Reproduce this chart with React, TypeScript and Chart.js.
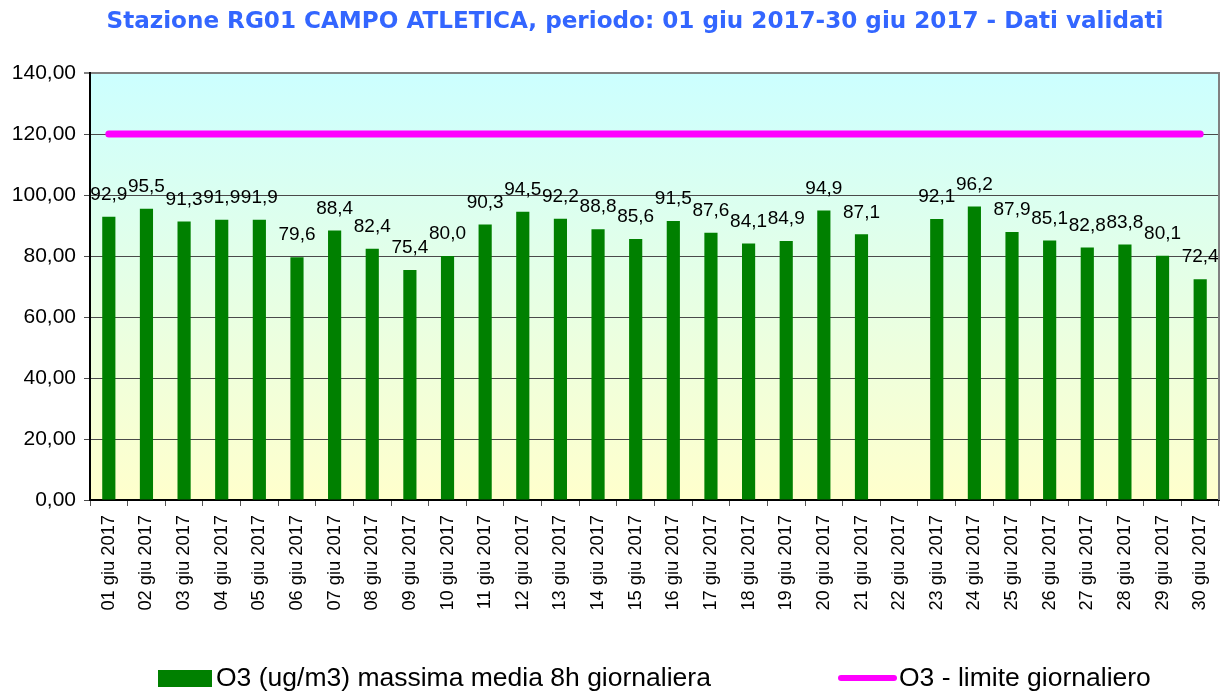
import React, { useEffect, useRef } from "react";
import { Chart, registerables } from "chart.js";

Chart.register(...registerables);

const TITLE = "Stazione RG01 CAMPO ATLETICA, periodo: 01 giu 2017-30 giu 2017 - Dati validati";

const categories: string[] = [
  "01 giu 2017", "02 giu 2017", "03 giu 2017", "04 giu 2017", "05 giu 2017",
  "06 giu 2017", "07 giu 2017", "08 giu 2017", "09 giu 2017", "10 giu 2017",
  "11 giu 2017", "12 giu 2017", "13 giu 2017", "14 giu 2017", "15 giu 2017",
  "16 giu 2017", "17 giu 2017", "18 giu 2017", "19 giu 2017", "20 giu 2017",
  "21 giu 2017", "22 giu 2017", "23 giu 2017", "24 giu 2017", "25 giu 2017",
  "26 giu 2017", "27 giu 2017", "28 giu 2017", "29 giu 2017", "30 giu 2017",
];

const o3Values: (number | null)[] = [
  92.9, 95.5, 91.3, 91.9, 91.9, 79.6, 88.4, 82.4, 75.4, 80.0,
  90.3, 94.5, 92.2, 88.8, 85.6, 91.5, 87.6, 84.1, 84.9, 94.9,
  87.1, null, 92.1, 96.2, 87.9, 85.1, 82.8, 83.8, 80.1, 72.4,
];

const limitValues: number[] = categories.map(() => 120);

const seriesNames = ["O3 (ug/m3) massima media 8h giornaliera", "O3 - limite giornaliero"];

const yMin = 0;
const yMax = 140;
const yStep = 20;

const FONT = "'Liberation Sans', Arial, sans-serif";

const bgPlugin = {
  id: "bgPlugin",
  beforeDraw(chart: any) {
    const { ctx, chartArea, width, height } = chart;
    ctx.save();
    ctx.fillStyle = "#ffffff";
    ctx.fillRect(0, 0, width, height);
    const g = ctx.createLinearGradient(0, chartArea.top, 0, chartArea.bottom);
    g.addColorStop(0, "#CCFFFF");
    g.addColorStop(1, "#FFFFCC");
    ctx.fillStyle = g;
    ctx.fillRect(chartArea.left, chartArea.top, chartArea.right - chartArea.left, chartArea.bottom - chartArea.top);
    // title
    ctx.fillStyle = "#3366FF";
    ctx.font = "bold 23.1px 'DejaVu Sans', Verdana, sans-serif";
    ctx.textAlign = "center";
    ctx.textBaseline = "middle";
    ctx.fillText(TITLE, 635, 22);
    ctx.restore();
  },
  afterDraw(chart: any) {
    const { ctx, chartArea } = chart;
    ctx.save();
    // right border
    ctx.strokeStyle = "#808080";
    ctx.lineWidth = 2;
    ctx.beginPath();
    ctx.moveTo(chartArea.right, chartArea.top - 1);
    ctx.lineTo(chartArea.right, chartArea.bottom);
    ctx.stroke();
    // legend
    ctx.fillStyle = "#008000";
    ctx.fillRect(158, 670, 54, 17);
    ctx.fillStyle = "#000";
    ctx.font = `26.5px ${FONT}`;
    ctx.textAlign = "left";
    ctx.textBaseline = "middle";
    ctx.fillText(seriesNames[0], 216, 679);
    ctx.strokeStyle = "#FF00FF";
    ctx.lineWidth = 6;
    ctx.lineCap = "round";
    ctx.beginPath();
    ctx.moveTo(841, 678);
    ctx.lineTo(894, 678);
    ctx.stroke();
    ctx.fillText(seriesNames[1], 899, 679);
    ctx.restore();
  },
};

const labelPlugin = {
  id: "labelPlugin",
  afterDatasetsDraw(chart: any) {
    const { ctx } = chart;
    const meta = chart.getDatasetMeta(0);
    ctx.save();
    ctx.fillStyle = "#000";
    ctx.font = `19px ${FONT}`;
    ctx.textAlign = "center";
    ctx.textBaseline = "middle";
    meta.data.forEach((bar: any, i: number) => {
      const v = o3Values[i];
      if (v === null || v === undefined) return;
      ctx.fillText(v.toFixed(1).replace(".", ","), bar.x, bar.y - 22);
    });
    ctx.restore();
  },
};

export default function App() {
  const ref = useRef<HTMLCanvasElement | null>(null);
  useEffect(() => {
    if (!ref.current) return;
    const chart = new Chart(ref.current, {
      type: "bar",
      data: {
        labels: categories,
        datasets: [
          {
            type: "bar",
            label: seriesNames[0],
            data: o3Values,
            backgroundColor: "#008000",
            borderWidth: 0,
            barPercentage: 0.35,
            categoryPercentage: 1,
            order: 2,
          },
          {
            type: "line",
            label: seriesNames[1],
            data: limitValues,
            borderColor: "#FF00FF",
            borderWidth: 7,
            borderCapStyle: "round",
            pointRadius: 0,
            fill: false,
            order: 1,
          },
        ],
      } as any,
      options: {
        responsive: false,
        animation: false,
        layout: { padding: { top: 73, left: 0, right: 7, bottom: 0 } },
        plugins: {
          legend: { display: false },
          title: { display: false },
          tooltip: { enabled: false },
        },
        scales: {
          x: {
            offset: true,
            grid: {
              offset: true,
              drawOnChartArea: false,
              drawTicks: true,
              tickLength: 6,
              color: "#555555",
            },
            border: { color: "#000000", width: 2 },
            ticks: {
              maxRotation: 90,
              minRotation: 90,
              autoSkip: false,
              padding: 9,
              color: "#000",
              font: { family: FONT, size: 18.3 },
            },
            afterFit(scale: any) {
              scale.height = 192;
              scale.paddingLeft = 0;
              scale.paddingRight = 0;
            },
          },
          y: {
            min: yMin,
            max: yMax,
            ticks: {
              stepSize: yStep,
              color: "#000",
              padding: 8,
              font: { family: FONT, size: 21 },
              callback: (v: any) => Number(v).toFixed(2).replace(".", ","),
            },
            grid: {
              color: (c: any) => (c.tick && c.tick.value === yMax ? "#808080" : "#4a4a4a"),
              lineWidth: (c: any) => (c.tick && c.tick.value === yMax ? 2 : 1),
              tickLength: 6,
            },
            border: { color: "#000000", width: 2 },
            afterFit(scale: any) {
              scale.width = 90;
              scale.paddingTop = 0;
              scale.paddingBottom = 0;
            },
          },
        },
      },
      plugins: [bgPlugin, labelPlugin],
    });
    return () => chart.destroy();
  }, []);
  return (
    <div style={{ position: "fixed", left: 0, top: 0, width: 1226, height: 692, background: "#fff" }}>
      <canvas ref={ref} width={1226} height={692} />
    </div>
  );
}
